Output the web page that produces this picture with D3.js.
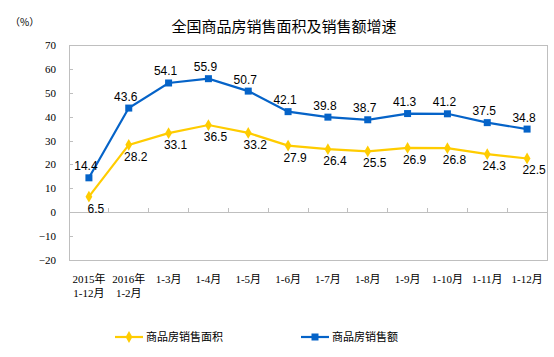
<!DOCTYPE html>
<html><head><meta charset="utf-8">
<script src="https://cdn.jsdelivr.net/npm/d3@7/dist/d3.min.js"></script>
<style>body{margin:0;background:#fff}svg{display:block}</style>
</head><body>
<script>
const categories = [["2015年","1-12月"],["2016年","1-2月"],["1-3月"],["1-4月"],["1-5月"],["1-6月"],["1-7月"],["1-8月"],["1-9月"],["1-10月"],["1-11月"],["1-12月"]];
const areaGrowth = [6.5,28.2,33.1,36.5,33.2,27.9,26.4,25.5,26.9,26.8,24.3,22.5];
const salesGrowth = [14.4,43.6,54.1,55.9,50.7,42.1,39.8,38.7,41.3,41.2,37.5,34.8];
const yTicks = [-20,-10,0,10,20,30,40,50,60,70];
const seriesNames = ["商品房销售面积","商品房销售额"];
const title = "全国商品房销售面积及销售额增速";
const unitLabel = "（%）";

const W=554,H=357;
const L=69,R=547,T=45,B=260;
const blue="#0563c8", yellow="#ffcc00", frame="#bfbfbf";
const svg=d3.select("body").append("svg").attr("width",W).attr("height",H);

const x=d3.scaleBand().domain(d3.range(categories.length)).range([L,R]).padding(0);
const y=d3.scaleLinear().domain([-20,70]).range([B,T]);
const cx=i=>x(i)+x.bandwidth()/2;

svg.append("text").attr("x",284).attr("y",32).attr("text-anchor","middle")
  .attr("font-family","'Noto Sans CJK SC'").attr("font-size",15).attr("fill","#000").text(title);
svg.append("text").attr("x",10).attr("y",26)
  .attr("font-family","'Noto Sans CJK SC'").attr("font-size",10).attr("fill","#000").text(unitLabel);

// frame
svg.append("rect").attr("x",L).attr("y",T).attr("width",R-L).attr("height",B-T)
  .attr("fill","none").attr("stroke",frame).attr("stroke-width",1).attr("shape-rendering","crispEdges");

// y axis
const ya=svg.append("g").attr("transform",`translate(${L},0)`)
  .call(d3.axisLeft(y).tickValues(yTicks).tickSize(-4).tickPadding(13).tickFormat(d3.format("d")));
ya.select(".domain").remove();
ya.selectAll("line").attr("stroke",frame).attr("shape-rendering","crispEdges");
ya.selectAll("text").attr("font-family","'Liberation Serif'").attr("font-size",11).attr("fill","#000");

// zero line and category ticks
svg.append("line").attr("x1",L).attr("x2",R).attr("y1",y(0)).attr("y2",y(0))
  .attr("stroke",frame).attr("shape-rendering","crispEdges");
svg.append("g").selectAll("line").data(d3.range(1,categories.length)).join("line")
  .attr("x1",i=>x(i)).attr("x2",i=>x(i)).attr("y1",y(0)).attr("y2",y(0)-4)
  .attr("stroke",frame).attr("shape-rendering","crispEdges");

// category labels
const cl=svg.append("g").selectAll("text").data(categories).join("text")
  .attr("x",(d,i)=>cx(i)).attr("y",283).attr("text-anchor","middle")
  .attr("font-family","'Liberation Serif','Noto Sans CJK SC'").attr("font-size",11).attr("fill","#000");
cl.selectAll("tspan").data(d=>d).join("tspan")
  .attr("x",function(){return this.parentNode.getAttribute("x");})
  .attr("dy",(d,j)=>j?14:0).text(d=>d);

const line=d3.line().x((d,i)=>cx(i)).y(d=>y(d));
svg.append("path").datum(areaGrowth).attr("d",line).attr("fill","none").attr("stroke",yellow).attr("stroke-width",2.2);
svg.append("path").datum(salesGrowth).attr("d",line).attr("fill","none").attr("stroke",blue).attr("stroke-width",2.2);

const diamond=d3.symbol().type(d3.symbolDiamond).size(40);
svg.append("g").selectAll("path").data(areaGrowth).join("path")
  .attr("d",diamond).attr("transform",(d,i)=>`translate(${cx(i)},${y(d)})`).attr("fill",yellow);
svg.append("g").selectAll("rect").data(salesGrowth).join("rect")
  .attr("x",(d,i)=>cx(i)-3.5).attr("y",d=>y(d)-3.5).attr("width",7).attr("height",7).attr("fill",blue);

// data labels
svg.append("g").selectAll("text").data(salesGrowth).join("text")
  .attr("x",(d,i)=>cx(i)-3).attr("y",d=>y(d)-7.5).attr("text-anchor","middle")
  .attr("font-family","'Liberation Sans'").attr("font-size",12).attr("fill","#000").text(d=>d.toFixed(1));
svg.append("g").selectAll("text").data(areaGrowth).join("text")
  .attr("x",(d,i)=>cx(i)+7).attr("y",d=>y(d)+16).attr("text-anchor","middle")
  .attr("font-family","'Liberation Sans'").attr("font-size",12).attr("fill","#000").text(d=>d.toFixed(1));

// legend
const lg=svg.append("g");
const legendItems=[{name:seriesNames[0],color:yellow,x:115,sym:"d"},{name:seriesNames[1],color:blue,x:301,sym:"s"}];
legendItems.forEach(it=>{
  const ly=337;
  lg.append("line").attr("x1",it.x).attr("x2",it.x+28).attr("y1",ly).attr("y2",ly).attr("stroke",it.color).attr("stroke-width",2.2);
  if(it.sym==="d") lg.append("path").attr("d",diamond).attr("transform",`translate(${it.x+14},${ly})`).attr("fill",it.color);
  else lg.append("rect").attr("x",it.x+14-3.5).attr("y",ly-3.5).attr("width",7).attr("height",7).attr("fill",it.color);
  lg.append("text").attr("x",it.x+31).attr("y",ly+4).attr("font-family","'Noto Sans CJK SC'").attr("font-size",11).attr("fill","#000").text(it.name);
});
</script>
</body></html>
